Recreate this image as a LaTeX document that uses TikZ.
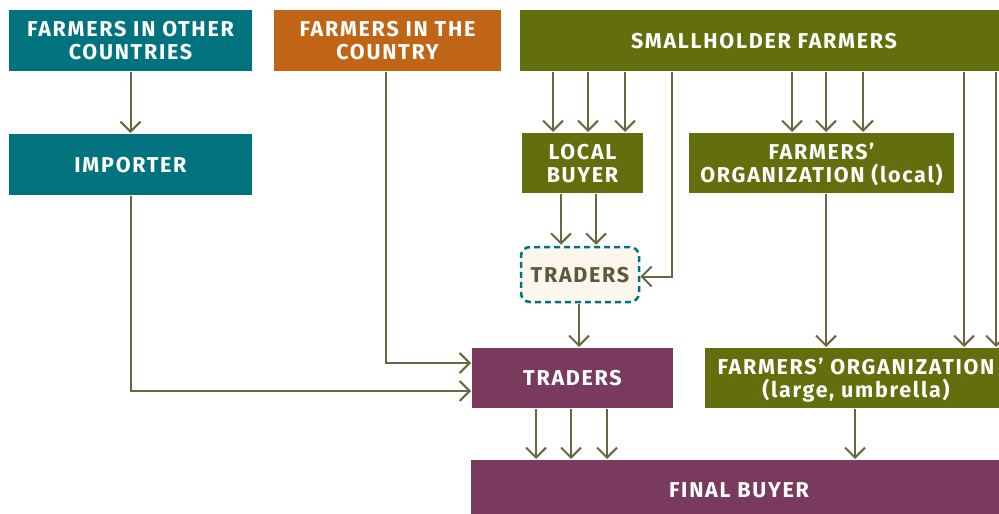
\documentclass[tikz,border=0pt]{standalone}
\usepackage{fontspec}
\setmainfont{Fira Sans}[LetterSpace=8]
\usetikzlibrary{arrows.meta,positioning}
\definecolor{tealC}{HTML}{00737F}
\definecolor{orangeC}{HTML}{C06516}
\definecolor{oliveC}{HTML}{636E0C}
\definecolor{plumC}{HTML}{7A3A5E}
\definecolor{lineC}{HTML}{6A6642}
\definecolor{creamC}{HTML}{FCF7EC}
\definecolor{darkC}{HTML}{5C593D}
\begin{document}
\begin{tikzpicture}[x=1pt, y=-1pt, line width=2pt,
    every node/.append style={font=\bfseries\fontsize{21.5}{23}\selectfont, align=center, text=white, inner sep=0pt}]
  \tikzstyle{box} = [rectangle, minimum height=60pt, text depth=-2pt]
  \tikzstyle{flow} = [draw=lineC, -{Straight Barb[length=10pt,width=20pt]}]
  \useasboundingbox (0,0) rectangle (999,514);
  \node (Others) [box, fill=tealC, minimum width=243pt, minimum height=61pt] at (130.5,40.5) {FARMERS IN OTHER\\COUNTRIES};
  \node (Country) [box, fill=orangeC, minimum width=227pt, minimum height=61pt] at (387.5,40.5) {FARMERS IN THE\\COUNTRY};
  \node (Smallholder) [box, fill=oliveC, minimum width=488pt, minimum height=61pt] at (764,40.5) {SMALLHOLDER FARMERS};
  \node (Importer) [box, fill=tealC, minimum width=243pt, minimum height=61pt] at (130.5,164.5) {IMPORTER};
  \node (LocalBuyer) [box, fill=oliveC, minimum width=121pt] at (582.5,163) {LOCAL\\BUYER};
  \node (LocalOrg) [box, fill=oliveC, minimum width=265pt] at (821.5,163) {FARMERS’\\ORGANIZATION (local)};
  \node (SmallTraders) [rectangle, rounded corners=9pt, draw=tealC, line width=2.5pt, dash pattern=on 6pt off 4pt,
    fill=creamC, text=darkC, text depth=-2pt, minimum width=118pt, minimum height=55pt] at (580,274.5) {TRADERS};
  \node (Traders) [box, fill=plumC, minimum width=201pt] at (572.5,378) {TRADERS};
  \node (LargeOrg) [box, fill=oliveC, minimum width=302pt] at (856,378) {FARMERS’ ORGANIZATION\\(large, umbrella)};
  \node (Final) [box, fill=plumC, minimum width=536pt] at (739,490) {FINAL BUYER};
  \draw[flow] (Others) -- (Importer);
  \draw[flow] ([xshift=-2pt]Country.south) |- ([yshift=15pt]Traders.west);
  \draw[flow] (Importer) |- ([yshift=-13pt]Traders.west);
  \foreach \x in {553,588,625}
    \draw[flow] (Smallholder.south -| \x,0) -- (LocalBuyer.north -| \x,0);
  \draw[flow] (Smallholder.south -| 672,0) |- ([yshift=-2pt]SmallTraders.east);
  \foreach \x in {792,826,863}
    \draw[flow] (Smallholder.south -| \x,0) -- (LocalOrg.north -| \x,0);
  \foreach \x in {964,996}
    \draw[flow] (Smallholder.south -| \x,0) -- (LargeOrg.north -| \x,0);
  \foreach \x in {561,596}
    \draw[flow] (LocalBuyer.south -| \x,0) -- ([yshift=1pt]SmallTraders.north -| \x,0);
  \draw[flow] ([yshift=-1pt]SmallTraders.south -| 579,0) -- (Traders.north -| 579,0);
  \draw[flow] (LocalOrg.south -| 826,0) -- (LargeOrg.north -| 826,0);
  \foreach \x in {536,571,607}
    \draw[flow] (Traders.south -| \x,0) -- (Final.north -| \x,0);
  \draw[flow] (LargeOrg.south -| 855,0) -- (Final.north -| 855,0);
\end{tikzpicture}
\end{document}
